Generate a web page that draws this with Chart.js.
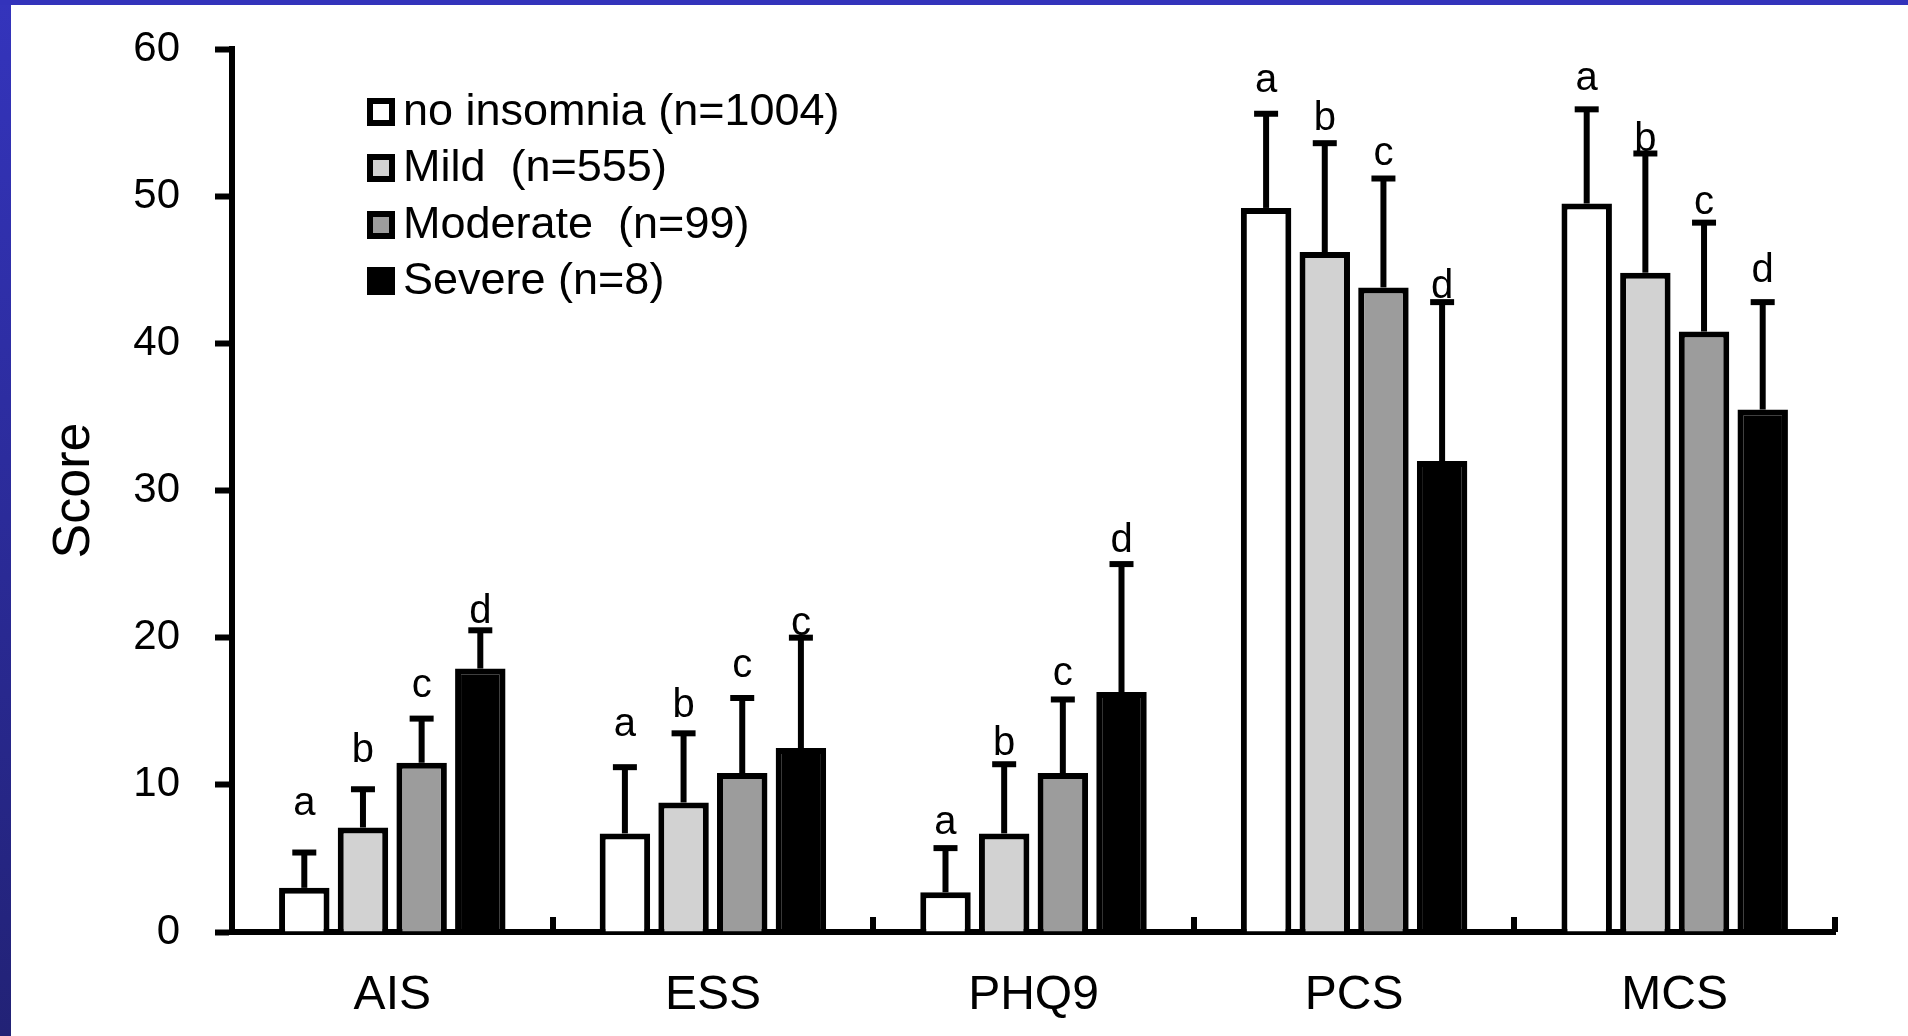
<!DOCTYPE html>
<html>
<head>
<meta charset="utf-8">
<script src="https://cdn.jsdelivr.net/npm/chart.js@4/dist/chart.umd.min.js"></script>
<style>
  html, body { margin: 0; padding: 0; background: #ffffff; overflow: hidden; }
  canvas { display: block; }
</style>
</head>
<body>
<canvas id="chart" width="1908" height="1036"></canvas>
<script>
// Outcome scores by insomnia severity (mean + SD), with significance letters
const categories = ['AIS', 'ESS', 'PHQ9', 'PCS', 'MCS'];

const groupNames = ['no insomnia (n=1004)', 'Mild  (n=555)', 'Moderate  (n=99)', 'Severe (n=8)'];

const noInsomnia   = [3.0, 6.7, 2.7, 49.2, 49.5];
const mild         = [7.1, 8.8, 6.7, 46.2, 44.8];
const moderate     = [11.5, 10.8, 10.8, 43.8, 40.8];
const severe       = [17.9, 12.5, 16.3, 32.0, 35.5];

const noInsomniaSD = [2.4, 4.5, 3.0, 6.4, 6.4];
const mildSD       = [2.6, 4.7, 4.7, 7.4, 8.1];
const moderateSD   = [3.0, 5.1, 5.0, 7.4, 7.4];
const severeSD     = [2.6, 7.5, 8.7, 10.8, 7.3];

// significance letters and the score level each one sits on
const noInsomniaSig = ['a', 'a', 'a', 'a', 'a'];
const mildSig       = ['b', 'b', 'b', 'b', 'b'];
const moderateSig   = ['c', 'c', 'c', 'c', 'c'];
const severeSig     = ['d', 'c', 'd', 'd', 'd'];

const noInsomniaSigAt = [7.95, 13.3, 6.65, 57.1, 57.2];
const mildSigAt       = [11.55, 14.6, 12.0, 54.5, 53.1];
const moderateSigAt   = [16.0, 17.35, 16.8, 52.1, 48.8];
const severeSigAt     = [21.0, 20.2, 25.8, 43.1, 44.2];

const yTicks = [0, 10, 20, 30, 40, 50, 60];

const FONT = '"Liberation Sans", Arial, sans-serif';
const fills = ['#ffffff', '#d2d2d2', '#9c9c9c', '#000000'];

const seriesValues = [noInsomnia, mild, moderate, severe];
const seriesSD = [noInsomniaSD, mildSD, moderateSD, severeSD];
const seriesSig = [noInsomniaSig, mildSig, moderateSig, severeSig];
const seriesSigAt = [noInsomniaSigAt, mildSigAt, moderateSigAt, severeSigAt];

const datasets = seriesValues.map((vals, i) => ({
  label: groupNames[i],
  data: vals,
  sd: seriesSD[i],
  sig: seriesSig[i],
  sigAt: seriesSigAt[i],
  backgroundColor: fills[i],
  borderColor: '#000000',
  borderWidth: 6,
  borderSkipped: 'start',
  categoryPercentage: 0.732,
  barPercentage: 0.86
}));

// slide frame: blue strips on the top and left edges
const framePlugin = {
  id: 'frame',
  beforeDraw(chart) {
    const ctx = chart.ctx;
    const w = chart.width, h = chart.height;
    ctx.save();
    ctx.fillStyle = '#ffffff';
    ctx.fillRect(0, 0, w, h);
    const g = ctx.createLinearGradient(0, 0, 0, h);
    g.addColorStop(0, '#3434bc');
    g.addColorStop(1, '#222276');
    ctx.fillStyle = g;
    ctx.fillRect(0, 0, 11, h);
    ctx.fillStyle = '#3333bb';
    ctx.fillRect(0, 0, w, 5);
    ctx.restore();
  }
};

// error bars (upper SD), significance letters, category ticks and legend
const annotatePlugin = {
  id: 'annotate',
  afterDatasetsDraw(chart) {
    const ctx = chart.ctx;
    const y = chart.scales.y;
    const area = chart.chartArea;
    ctx.save();

    // inward category-boundary ticks on the x axis
    ctx.strokeStyle = '#000';
    ctx.lineWidth = 6;
    const step = (area.right - area.left) / categories.length;
    for (let i = 1; i <= categories.length; i++) {
      const px = Math.round(area.left + i * step);
      ctx.beginPath();
      ctx.moveTo(px, area.bottom);
      ctx.lineTo(px, area.bottom - 15);
      ctx.stroke();
    }

    chart.data.datasets.forEach((ds, di) => {
      const meta = chart.getDatasetMeta(di);
      meta.data.forEach((bar, i) => {
        const cx = bar.x;
        const top = y.getPixelForValue(ds.data[i]);
        const capY = y.getPixelForValue(ds.data[i] + ds.sd[i]);
        ctx.strokeStyle = '#000';
        ctx.lineWidth = 6;
        ctx.beginPath();
        ctx.moveTo(cx, top);
        ctx.lineTo(cx, capY);
        ctx.stroke();
        ctx.beginPath();
        ctx.moveTo(cx - 12, capY);
        ctx.lineTo(cx + 12, capY);
        ctx.stroke();

        ctx.fillStyle = '#000';
        ctx.font = '40px ' + FONT;
        ctx.textAlign = 'center';
        ctx.textBaseline = 'alphabetic';
        ctx.fillText(ds.sig[i], cx, y.getPixelForValue(ds.sigAt[i]));
      });
    });

    // legend
    const lx = 367, size = 28;
    const rows = [112, 168, 225, 281];
    chart.data.datasets.forEach((ds, di) => {
      const cy = rows[di];
      ctx.fillStyle = '#000';
      ctx.fillRect(lx, cy - size / 2, size, size);
      ctx.fillStyle = ds.backgroundColor;
      ctx.fillRect(lx + 6, cy - size / 2 + 6, size - 12, size - 12);
      ctx.fillStyle = '#000';
      ctx.font = '45px ' + FONT;
      ctx.textAlign = 'left';
      ctx.textBaseline = 'middle';
      ctx.fillText(ds.label, lx + size + 8, cy + 1);
    });

    ctx.restore();
  }
};

new Chart(document.getElementById('chart'), {
  type: 'bar',
  data: { labels: categories, datasets },
  options: {
    responsive: false,
    animation: false,
    devicePixelRatio: 1,
    layout: { padding: { left: 0, right: 73, top: 49, bottom: 0 } },
    plugins: { legend: { display: false }, tooltip: { enabled: false } },
    scales: {
      x: {
        offset: true,
        grid: { display: false },
        border: { display: true, color: '#000', width: 6 },
        ticks: { color: '#000', font: { family: FONT, size: 48 }, padding: 27 },
        afterFit(scale) { scale.height = 104; }
      },
      y: {
        min: 0,
        max: 60,
        afterBuildTicks(scale) { scale.ticks = yTicks.map(v => ({ value: v })); },
        grid: { drawOnChartArea: false, drawTicks: true, tickLength: 17, tickWidth: 6, tickColor: '#000' },
        border: { display: true, color: '#000', width: 6 },
        ticks: { color: '#000', font: { family: FONT, size: 42 }, padding: 35 },
        title: { display: true, text: 'Score', color: '#000', font: { family: FONT, size: 52 }, padding: { top: 43 } },
        afterFit(scale) {
          scale.width = 232;
          scale.paddingTop = 0;
          scale.paddingBottom = 0;
        }
      }
    }
  },
  plugins: [framePlugin, annotatePlugin]
});
</script>
</body>
</html>
